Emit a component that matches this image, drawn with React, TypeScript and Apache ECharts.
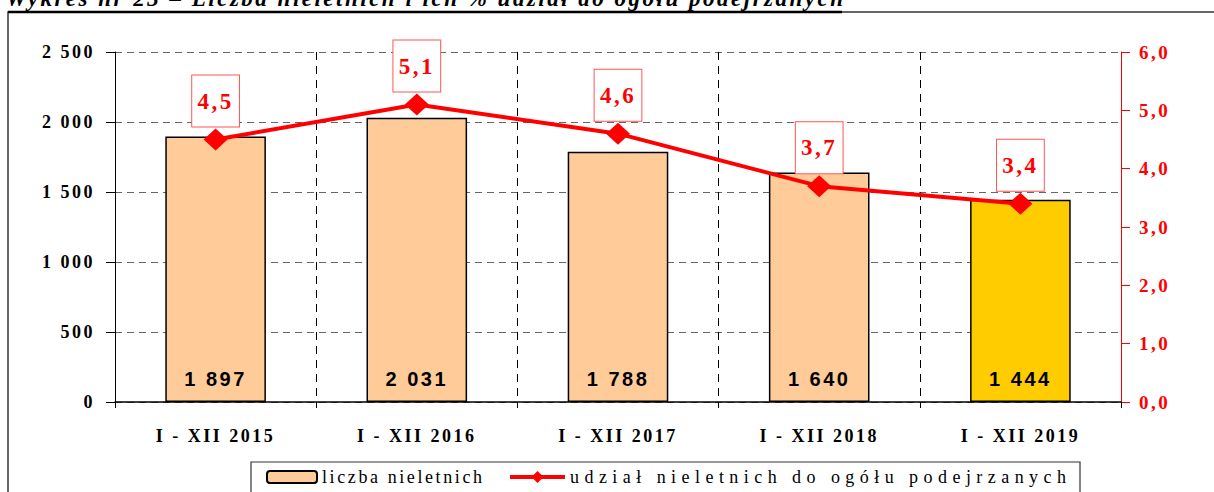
import React, { useEffect, useRef } from "react";
import * as echarts from "echarts";

const titleText = "Wykres nr 23 – Liczba nieletnich i ich % udział do ogółu podejrzanych";
const categories = ["I - XII 2015", "I - XII 2016", "I - XII 2017", "I - XII 2018", "I - XII 2019"];
const juveniles = [1897, 2031, 1788, 1640, 1444];
const shares = [4.5, 5.1, 4.6, 3.7, 3.4];
const barName = "liczba nieletnich";
const lineName = "udział nieletnich do ogółu podejrzanych";
const barColors = ["#FFCC99", "#FFCC99", "#FFCC99", "#FFCC99", "#FFCC00"];

const spaced = (n: number) => String(n).replace(/\B(?=(\d{3})+(?!\d))/g, " ");
const comma = (v: number) => Number(v).toFixed(1).replace(".", ",");

const SERIF = "Liberation Serif";
const legendTextWidths: Record<string, number> = { [barName]: 160, [lineName]: 496 };

export default function App() {
  const ref = useRef<HTMLDivElement>(null);
  useEffect(() => {
    if (!ref.current) return;
    const el = ref.current;
    const chart = echarts.init(el, null, { renderer: "svg" });
    const legendCommon = {
      orient: "horizontal",
      top: 468,
      padding: 0,
      textStyle: { fontFamily: SERIF, fontSize: 18, color: "#000" },
    };
    chart.setOption({
      animation: false,
      textStyle: { fontFamily: SERIF },
      graphic: [
        {
          type: "rect",
          silent: true,
          z: -10,
          shape: { x: 8, y: 12, width: 1230, height: 520 },
          style: { fill: "none", stroke: "#333", lineWidth: 1.5 },
        },
        {
          type: "text",
          x: 6,
          y: 10,
          style: {
            text: titleText,
            font: `italic bold 23px "${SERIF}"`,
            fill: "#000",
            align: "left",
            verticalAlign: "bottom",
          },
        },
        {
          type: "line",
          shape: { x1: 8, y1: 12, x2: 842, y2: 12 },
          style: { stroke: "#000", lineWidth: 2.5 },
        },
        {
          type: "rect",
          silent: true,
          z: -5,
          shape: { x: 251, y: 462, width: 829, height: 60 },
          style: { fill: "#fff", stroke: "#333", lineWidth: 1.2 },
        },
      ],
      grid: { left: 115, right: 93, top: 52, bottom: 90, containLabel: false, outerBoundsMode: "none" },
      legend: [
        { ...legendCommon, left: 266, itemWidth: 50, itemHeight: 12, data: [barName] },
        {
          ...legendCommon,
          left: 508,
          itemWidth: 55,
          itemHeight: 15,
          lineStyle: { width: 4 },
          data: [{ name: lineName, lineStyle: { width: 4 } }],
        },
      ],
      xAxis: {
        type: "category",
        data: categories,
        boundaryGap: true,
        axisLine: { lineStyle: { color: "#000", width: 1.5 } },
        axisTick: { show: true, length: 6, lineStyle: { color: "#000" } },
        splitLine: { show: true, interval: 0, lineStyle: { color: "#000", type: [8, 6] } },
        axisLabel: { margin: 25, fontSize: 18, fontWeight: "bold", color: "#000", fontFamily: SERIF, interval: 0 },
      },
      yAxis: [
        {
          type: "value",
          min: 0,
          max: 2500,
          interval: 500,
          axisLine: { show: true, lineStyle: { color: "#000" } },
          axisTick: { show: true, length: 9, lineStyle: { color: "#000" } },
          splitLine: { show: true, lineStyle: { color: "#666", type: [7, 5] } },
          axisLabel: { formatter: (v: number) => spaced(v), margin: 20, fontSize: 18, fontWeight: "bold", color: "#000", fontFamily: SERIF },
        },
        {
          type: "value",
          min: 0,
          max: 6,
          interval: 1,
          position: "right",
          axisLine: { show: true, lineStyle: { color: "#f00" } },
          axisTick: { show: true, length: 9, lineStyle: { color: "#f00" } },
          splitLine: { show: false },
          axisLabel: { formatter: (v: number) => comma(v), margin: 18, fontSize: 19, fontWeight: "bold", color: "#f00", fontFamily: SERIF },
        },
      ],
      series: [
        {
          name: barName,
          type: "bar",
          barWidth: "50%",
          data: juveniles.map((v, i) => ({ value: v, itemStyle: { color: barColors[i] } })),
          itemStyle: { color: "#FFCC99", borderColor: "#000", borderWidth: 1.5 },
          label: {
            show: true,
            position: "insideBottom",
            distance: 13,
            formatter: (p: any) => spaced(p.value),
            fontFamily: "Liberation Sans",
            fontWeight: "bold",
            fontSize: 20,
            color: "#000",
          },
        },
        {
          name: lineName,
          type: "line",
          yAxisIndex: 1,
          data: shares,
          symbol: "diamond",
          symbolSize: [24, 22],
          lineStyle: { color: "#f00", width: 4 },
          itemStyle: { color: "#f00" },
          z: 5,
          label: {
            show: true,
            position: "top",
            distance: 2,
            formatter: (p: any) => comma(p.value),
            color: "#f00",
            fontSize: 23,
            fontWeight: "bold",
            fontFamily: SERIF,
            backgroundColor: "#fff",
            borderColor: "#f55",
            borderWidth: 1,
            padding: [14, 9],
          },
        },
      ],
    });
    const stretchLegend = () => {
      el.querySelectorAll("text").forEach((t) => {
        const w = legendTextWidths[(t.textContent || "").trim()];
        if (w) {
          t.setAttribute("textLength", String(w));
          t.setAttribute("lengthAdjust", "spacing");
          (t as SVGTextElement).style.letterSpacing = "0px";
        }
      });
    };
    chart.on("finished", stretchLegend);
    stretchLegend();
    return () => chart.dispose();
  }, []);
  return (
    <div
      ref={ref}
      style={{ position: "fixed", left: 0, top: 0, width: 1214, height: 492, letterSpacing: "2.5px", background: "#fff" }}
    />
  );
}
